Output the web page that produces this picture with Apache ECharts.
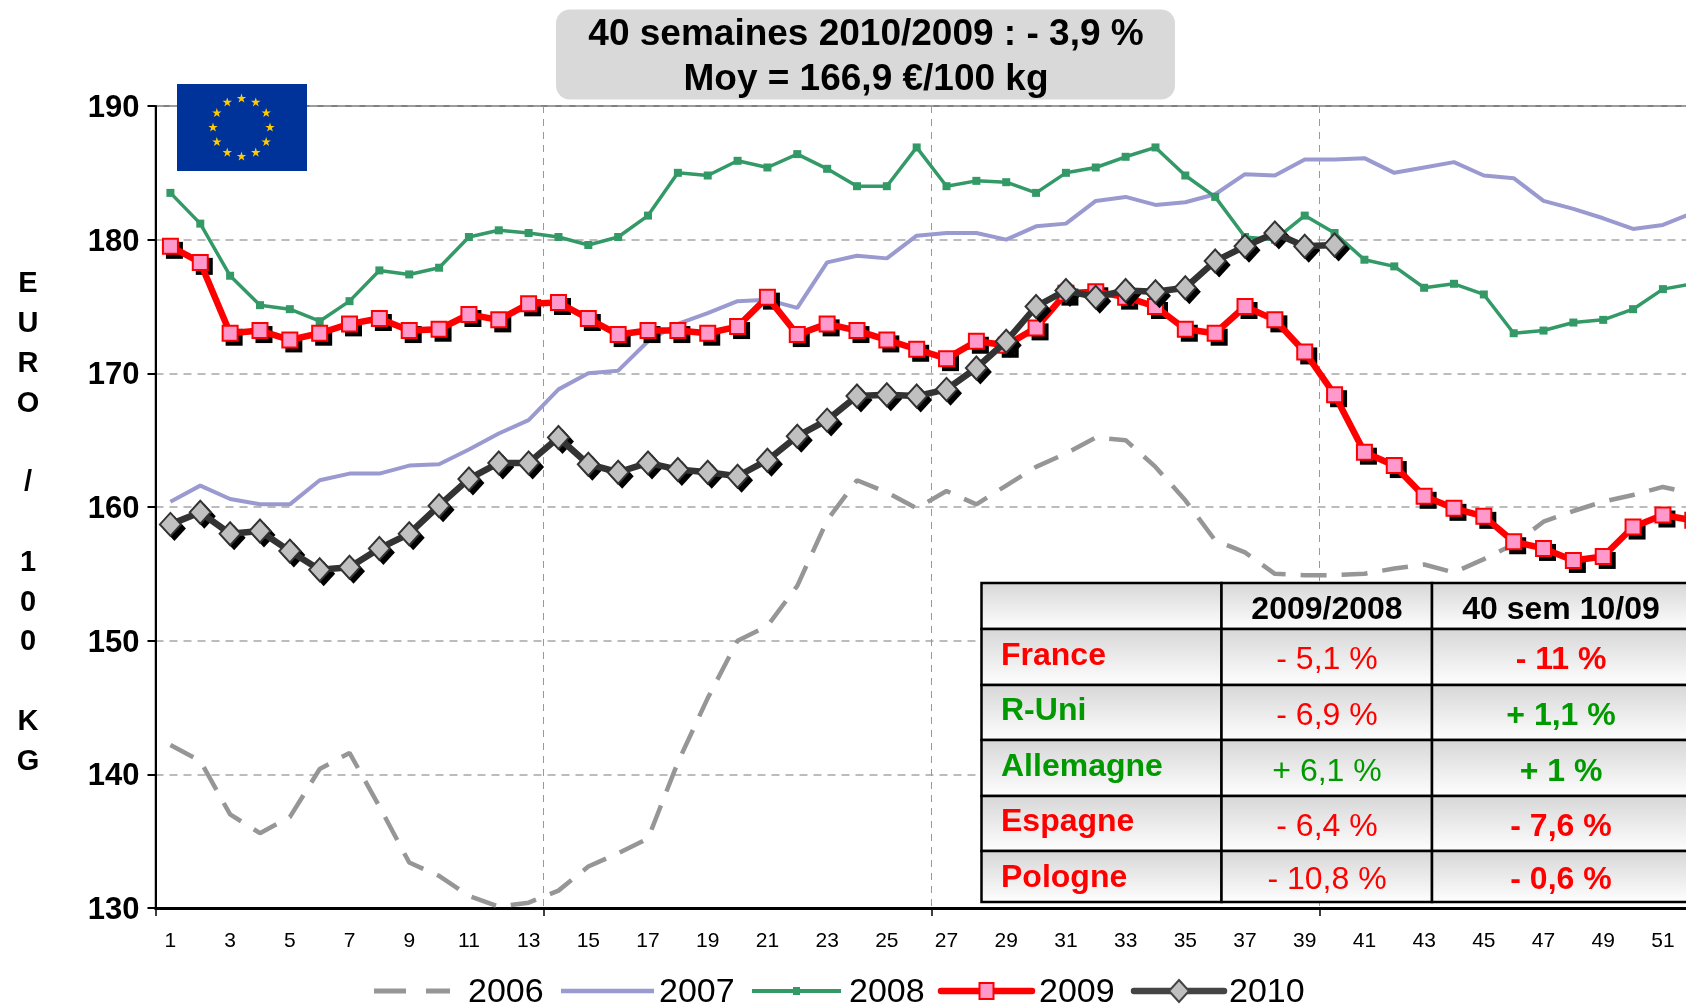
<!DOCTYPE html>
<html><head><meta charset="utf-8">
<style>html,body{margin:0;padding:0;background:#fff;overflow:hidden}#c{width:1686px;height:1005px}</style>
<script src="https://cdn.jsdelivr.net/npm/echarts@6/dist/echarts.min.js"></script>
</head><body><div id="c"></div>
<script>
const weeks = Array.from({length:52},(_,i)=>String(i+1));
const y2006 = [142.2,141,137,135.6,136.8,140.4,141.6,137.6,133.4,132.4,130.9,130.1,130.4,131.3,133.1,134.1,135.2,140.9,145.7,150,151.1,154.1,159,162,161.1,159.9,161.2,160.2,161.6,163,164,165.2,165,163,160.5,157.5,156.6,155,154.9,154.9,155,155.4,155.7,155.1,156.1,157.2,158.9,159.7,160.4,160.9,161.5,161];
const y2007 = [160.4,161.6,160.6,160.2,160.2,162,162.5,162.5,163.1,163.2,164.3,165.5,166.5,168.8,170,170.2,172.4,173.7,174.5,175.4,175.5,174.9,178.3,178.8,178.6,180.3,180.5,180.5,180,181,181.2,182.9,183.2,182.6,182.8,183.4,184.9,184.8,186,186,186.1,185,185.4,185.8,184.8,184.6,182.9,182.3,181.6,180.8,181.1,182];
const y2008 = [183.5,181.2,177.3,175.1,174.8,173.9,175.4,177.7,177.4,177.9,180.2,180.7,180.5,180.2,179.6,180.2,181.8,185,184.8,185.9,185.4,186.4,185.3,184,184,186.9,184,184.4,184.3,183.5,185,185.4,186.2,186.9,184.8,183.2,180.2,180,181.8,180.5,178.5,178,176.4,176.7,175.9,173,173.2,173.8,174,174.8,176.3,176.7];
const y2009 = [179.5,178.3,173,173.2,172.5,173,173.7,174.1,173.2,173.3,174.4,174,175.2,175.3,174.1,172.9,173.2,173.2,173,173.5,175.7,172.9,173.7,173.2,172.5,171.8,171.1,172.4,172.1,173.4,176,176.1,175.7,175,173.3,173,175,174,171.6,168.4,164.1,163.1,160.8,159.9,159.3,157.4,156.9,156,156.3,158.5,159.4,159];
const y2010 = [158.7,159.6,158,158.2,156.7,155.3,155.5,156.9,158,160.1,162.1,163.3,163.3,165.2,163.2,162.6,163.3,162.8,162.6,162.3,163.5,165.3,166.5,168.3,168.4,168.3,168.8,170.4,172.4,175,176.2,175.7,176.2,176.1,176.4,178.4,179.5,180.5,179.5,179.6];
const titleLines = '40 semaines 2010/2009 : - 3,9 %\nMoy = 166,9 €/100 kg';
const yAxisLetters = 'E\nU\nR\nO\n\n/\n\n1\n0\n0\n\nK\nG';
const legendNames = ['2006','2007','2008','2009','2010'];
const tableHeader = ['', '2009/2008', '40 sem 10/09'];
const tableCountries = ['France','R-Uni','Allemagne','Espagne','Pologne'];
const table0908 = ['- 5,1 %','- 6,9 %','+ 6,1 %','- 6,4 %','- 10,8 %'];
const table1009 = ['- 11 %','+ 1,1 %','+ 1 %','- 7,6 %','- 0,6 %'];
const RED='#ff0000', GREEN='#009900';
const countryColors=[RED,GREEN,GREEN,RED,RED];
const col0908=[RED,RED,GREEN,RED,RED];
const col1009=[RED,GREEN,GREEN,RED,RED];
const FONT='"Liberation Sans", Arial, sans-serif';

const g=[];
g.push({type:'rect',z:20,shape:{x:556,y:9.5,width:619,height:90,r:14},style:{fill:'#d9d9d9'}});
g.push({type:'text',z:21,style:{x:866,y:57.5,text:titleLines,fill:'#000',font:'bold 37px '+FONT,align:'center',verticalAlign:'middle',lineHeight:45}});
g.push({type:'rect',z:20,shape:{x:177,y:84,width:130,height:87},style:{fill:'#003399'}});
for(let k=0;k<12;k++){
  const a=k*Math.PI/6, cx=241.5+28.5*Math.sin(a), cy=127.5-29*Math.cos(a), pts=[];
  for(let j=0;j<10;j++){const r=j%2?1.9:5, t=j*Math.PI/5; pts.push([cx+r*Math.sin(t),cy-r*Math.cos(t)]);}
  g.push({type:'polygon',z:21,shape:{points:pts},style:{fill:'#ffcc00'}});
}
g.push({type:'text',z:21,style:{x:28,y:523,text:yAxisLetters,fill:'#000',font:'bold 29px '+FONT,align:'center',verticalAlign:'middle',lineHeight:39.8}});
const colX=[981.5,1221.5,1432,1720], rowY=[583,629,685,740,796,851,902];
for(let r=0;r<6;r++){
  for(let c=0;c<3;c++){
    g.push({type:'rect',z:30,shape:{x:colX[c],y:rowY[r],width:colX[c+1]-colX[c],height:rowY[r+1]-rowY[r]},
      style:{fill:{type:'linear',x:0,y:0,x2:0,y2:1,colorStops:[{offset:0,color:'#d6d6d6'},{offset:1,color:'#ffffff'}]},stroke:'#000',lineWidth:2.5}});
  }
}
const cell=(x,y,t,color,weight,size,align)=>g.push({type:'text',z:31,style:{x,y,text:t,fill:color,font:weight+' '+size+'px '+FONT,align:align||'center',verticalAlign:'middle'}});
cell(1327,610,tableHeader[1],'#000','bold',32);
cell(1561,610,tableHeader[2],'#000','bold',32);
const leftY=[656,711,767,822,878], valY=[660,716,772,827,880];
tableCountries.forEach((t,i)=>{
  cell(1001,leftY[i],t,countryColors[i],'bold',32,'left');
  cell(1327,valY[i],table0908[i],col0908[i],'normal',32);
  cell(1561,valY[i],table1009[i],col1009[i],'bold',32);
});

const LY=991;
const legendItems=[
  {x0:374,x1:450,tx:468,color:'#969696',w:5,dash:[32,20]},
  {x0:561,x1:654,tx:659,color:'#9a9ad0',w:4.5},
  {x0:752,x1:841,tx:849,color:'#339966',w:4},
  {x0:941,x1:1032,tx:1039,color:'#ff0000',w:6.5,cap:'round'},
  {x0:1134,x1:1224,tx:1229,color:'#444444',w:6.5,cap:'round'}
];
legendItems.forEach((it,i)=>{
  g.push({type:'line',z:21,shape:{x1:it.x0,y1:LY,x2:it.x1,y2:LY},style:{stroke:it.color,lineWidth:it.w,lineDash:it.dash||null,lineCap:it.cap||'butt'}});
  g.push({type:'text',z:21,style:{x:it.tx,y:LY+2,text:legendNames[i],fill:'#000',font:'34px '+FONT,align:'left',verticalAlign:'middle'}});
});
const mx=(legendItems[2].x0+legendItems[2].x1)/2;
g.push({type:'rect',z:22,shape:{x:mx-3.5,y:LY-4,width:7,height:8},style:{fill:'#339966'}});
const rx=(legendItems[3].x0+legendItems[3].x1)/2;
g.push({type:'rect',z:22,shape:{x:rx-7,y:LY-8,width:14,height:16},style:{fill:'#ff99cc',stroke:'#ff0000',lineWidth:2}});
const dx=(legendItems[4].x0+legendItems[4].x1)/2;
g.push({type:'polygon',z:22,shape:{points:[[dx,LY-11],[dx+10,LY],[dx,LY+11],[dx-10,LY]]},style:{fill:'#c0c0c0',stroke:'#444444',lineWidth:2}});

const mk=(name,data,o)=>Object.assign({name,type:'line',data,smooth:false,animation:false,showAllSymbol:true},o);
const shadow=(name,data,symbol,size,z)=>mk(name,data,{symbol,symbolSize:size,symbolOffset:[4,4],silent:true,lineStyle:{width:0,opacity:0},itemStyle:{color:'#000',borderWidth:0},z});
const option={
  animation:false,backgroundColor:'#fff',
  textStyle:{fontFamily:FONT},
  grid:{left:155.5,top:106,width:1552.2,height:802,show:true,borderColor:'#808080',borderWidth:2,backgroundColor:'transparent',outerBoundsMode:'none',containLabel:false},
  xAxis:{type:'category',data:weeks,boundaryGap:true,
    axisLine:{lineStyle:{color:'#000',width:3}},
    axisTick:{show:true,interval:12,length:8,lineStyle:{color:'#000',width:1.5}},
    axisLabel:{interval:1,fontSize:21,color:'#000',margin:23,hideOverlap:false},
    splitLine:{show:true,interval:12,lineStyle:{color:'#999',type:[7,6],width:1}}},
  yAxis:{type:'value',min:130,max:190,interval:10,
    axisLine:{show:true,lineStyle:{color:'#000',width:2}},
    axisTick:{show:true,length:8,lineStyle:{color:'#000',width:2}},
    axisLabel:{margin:16,formatter:'{a|{value}}',rich:{a:{fontSize:31,fontWeight:'bold',color:'#000',fontFamily:FONT,padding:[5,0,0,0]}}},
    splitLine:{show:true,lineStyle:{color:'#a6a6a6',type:[8,6],width:1.5}}},
  series:[
    mk('2006',y2006,{symbol:'none',lineStyle:{color:'#969696',width:4.5,type:[26,15]},z:2}),
    mk('2007',y2007,{symbol:'none',lineStyle:{color:'#9a9ad0',width:4},z:3}),
    mk('2008',y2008,{symbol:'rect',symbolSize:8,lineStyle:{color:'#339966',width:3.5},itemStyle:{color:'#339966'},z:4}),
    shadow('2009 ombre',y2009,'rect',17,5),
    mk('2009',y2009,{symbol:'rect',symbolSize:15,lineStyle:{color:'#ff0000',width:6.5},
      itemStyle:{color:'#ff99cc',borderColor:'#ff0000',borderWidth:2},z:6}),
    shadow('2010 ombre',y2010,'diamond',[23,25],7),
    mk('2010',y2010,{symbol:'diamond',symbolSize:[21,23],lineStyle:{color:'#333333',width:6.5},
      itemStyle:{color:'#c0c0c0',borderColor:'#333333',borderWidth:2},z:8})
  ],
  graphic:{elements:g}
};
const chart=echarts.init(document.getElementById('c'),null,{renderer:'canvas',width:1686,height:1005});
chart.setOption(option);
</script></body></html>
